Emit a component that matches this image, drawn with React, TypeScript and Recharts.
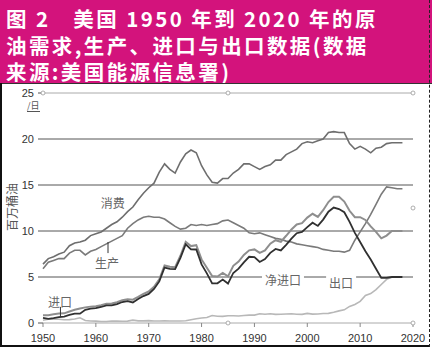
import { Line, LineChart, ReferenceDot, ReferenceLine, XAxis, YAxis } from 'recharts';

const years = [
  1950, 1951, 1952, 1953, 1954, 1955, 1956, 1957, 1958, 1959,
  1960, 1961, 1962, 1963, 1964, 1965, 1966, 1967, 1968, 1969,
  1970, 1971, 1972, 1973, 1974, 1975, 1976, 1977, 1978, 1979,
  1980, 1981, 1982, 1983, 1984, 1985, 1986, 1987, 1988, 1989,
  1990, 1991, 1992, 1993, 1994, 1995, 1996, 1997, 1998, 1999,
  2000, 2001, 2002, 2003, 2004, 2005, 2006, 2007, 2008, 2009,
  2010, 2011, 2012, 2013, 2014, 2015, 2016, 2017, 2018,
];

// 消费（需求）
const demand = [
  6.4, 7.0, 7.2, 7.5, 7.7, 8.4, 8.7, 8.8, 9.0, 9.5,
  9.7, 9.9, 10.3, 10.7, 11.0, 11.5, 12.1, 12.6, 13.4, 14.1,
  14.7, 15.2, 16.4, 17.3, 16.7, 16.3, 17.5, 18.4, 18.8, 18.5,
  17.1, 16.1, 15.3, 15.2, 15.7, 15.7, 16.3, 16.7, 17.3, 17.3,
  17.0, 16.7, 17.0, 17.2, 17.7, 17.7, 18.3, 18.6, 18.9, 19.5,
  19.7, 19.6, 19.8, 20.0, 20.7, 20.8, 20.7, 20.7, 19.5, 18.9,
  19.2, 18.9, 18.5, 19.0, 19.1, 19.5, 19.6, 19.6, 19.6,
];

// 生产
const production = [
  5.9, 6.6, 6.8, 7.0, 7.0, 7.6, 7.9, 7.9, 7.4, 7.8,
  8.0, 8.3, 8.6, 8.9, 9.2, 9.5, 10.3, 10.8, 11.2, 11.5,
  11.6, 11.5, 11.5, 11.3, 10.9, 10.5, 10.2, 10.3, 10.7, 10.6,
  10.7, 10.6, 10.7, 10.8, 11.1, 11.2, 10.9, 10.6, 10.3, 9.8,
  9.7, 9.8, 9.6, 9.4, 9.2, 9.1, 8.9, 8.8, 8.6, 8.5,
  8.4, 8.3, 8.2, 8.0, 7.9, 7.8, 7.8, 7.7, 7.9, 9.0,
  9.9, 10.8, 11.8, 12.9, 14.0, 14.8, 14.7, 14.6, 14.6,
];

// 进口
const imports = [
  0.85, 0.85, 0.95, 1.03, 1.05, 1.25, 1.44, 1.57, 1.7, 1.78,
  1.81, 1.92, 2.08, 2.12, 2.26, 2.47, 2.57, 2.54, 2.84, 3.17,
  3.42, 3.93, 4.74, 6.26, 6.11, 6.06, 7.31, 8.81, 8.36, 8.46,
  6.91, 6.0, 5.11, 5.05, 5.44, 5.07, 6.22, 6.68, 7.4, 7.9,
  8.0, 7.63, 7.89, 8.62, 9.0, 8.83, 9.48, 10.16, 10.71, 10.85,
  11.46, 11.87, 11.53, 12.26, 13.15, 13.71, 13.71, 13.2, 12.2, 11.5,
  11.5, 11.2, 10.5, 9.9, 9.2, 9.5, 10.0, 10.0, 10.0,
];

// 净进口
const netImports = [
  0.55, 0.45, 0.52, 0.63, 0.7, 0.88, 1.01, 1.01, 1.43, 1.57,
  1.61, 1.74, 1.91, 1.91, 2.06, 2.28, 2.37, 2.23, 2.61, 2.93,
  3.16, 3.7, 4.52, 6.03, 5.89, 5.85, 7.09, 8.56, 8.0, 7.99,
  6.37, 5.4, 4.3, 4.31, 4.72, 4.29, 5.44, 5.91, 6.59, 7.2,
  7.16, 6.63, 6.94, 7.62, 8.05, 7.89, 8.5, 9.16, 9.76, 9.91,
  10.42, 10.9, 10.55, 11.24, 12.1, 12.55, 12.39, 12.04, 11.0, 9.8,
  8.8, 7.8, 6.9, 5.9, 4.9, 4.9, 5.0, 5.0, 5.0,
];

// 出口
const exportsData = [
  0.3, 0.42, 0.43, 0.4, 0.36, 0.37, 0.43, 0.57, 0.28, 0.21,
  0.2, 0.17, 0.17, 0.21, 0.2, 0.19, 0.2, 0.31, 0.23, 0.23,
  0.26, 0.22, 0.22, 0.23, 0.22, 0.21, 0.22, 0.24, 0.36, 0.47,
  0.54, 0.6, 0.81, 0.74, 0.72, 0.78, 0.78, 0.76, 0.82, 0.86,
  0.86, 1.0, 0.95, 1.0, 0.94, 0.95, 0.98, 1.0, 0.95, 0.94,
  1.04, 0.97, 0.98, 1.03, 1.05, 1.17, 1.32, 1.43, 1.8, 2.02,
  2.35, 2.99, 3.2, 3.62, 4.18, 4.74, 5.0, 5.0, 5.0,
];

const xTicks = [1950, 1960, 1970, 1980, 1990, 2000, 2010, 2020];
const yTicks = [0, 5, 10, 15, 20, 25];
const gridValues = [5, 10, 15, 20];

const titleText = '图 2　美国 1950 年到 2020 年的原\n油需求,生产、进口与出口数据(数据\n来源:美国能源信息署)';

const data = years.map((year, i) => ({
  year,
  demand: demand[i],
  production: production[i],
  imports: imports[i],
  netImports: netImports[i],
  exports: exportsData[i],
}));

const txtFont = '"Noto Sans CJK SC", sans-serif';

// annotation drawn at a data point, optional white box behind it
const makeNote = (text: string, boxed: boolean) => (props: any) => {
  const { cx, cy } = props;
  const w = text.length * 12 + 6;
  return (
    <g>
      {boxed && <rect x={cx - w / 2} y={cy - 8} width={w} height={16} fill="#fff" />}
      <text x={cx} y={cy} textAnchor="middle" dominantBaseline="central" fontSize={12} fill="#666" fontFamily={txtFont}>
        {text}
      </text>
    </g>
  );
};

const handle = (props: any) => (
  <circle cx={props.cx} cy={props.cy} r={2} fill="#fff" stroke="#999" strokeWidth={0.8} />
);

export default function App() {
  return (
    <div style={{ position: 'absolute', left: 0, top: 0, width: 432, height: 351, background: '#fff', overflow: 'hidden' }}>
      <div style={{ position: 'absolute', left: 0, top: 0, width: 432, height: 83, background: '#d3137c' }}>
        <div
          style={{
            position: 'absolute',
            left: 6,
            top: 5,
            fontFamily: txtFont,
            fontWeight: 700,
            fontSize: 20.5,
            letterSpacing: 2.4,
            lineHeight: '26.5px',
            color: '#fff',
            whiteSpace: 'pre',
          }}
        >
          {titleText}
        </div>
      </div>
      <div style={{ position: 'absolute', left: 0, top: 83, width: 432, height: 1, background: '#333' }} />
      <div style={{ position: 'absolute', left: 0, top: 83, width: 2, height: 264, background: '#111' }} />
      <div style={{ position: 'absolute', left: 0, top: 345, width: 430, height: 2, background: '#111' }} />
      <div style={{ position: 'absolute', left: 429, top: 0, width: 0, height: 347, borderLeft: '1px dashed #222' }} />

      <div style={{ position: 'absolute', left: 0, top: 84 }}>
        <LineChart width={432} height={262} data={data} margin={{ top: 9, right: 19, left: 0, bottom: 0 }}>
          <XAxis
            dataKey="year"
            type="number"
            domain={[1950, 2020]}
            ticks={xTicks}
            axisLine={{ stroke: '#aaa' }}
            tickLine={{ stroke: '#888' }}
            tickSize={4}
            tickMargin={7}
            height={23}
            tick={{ fontSize: 11, fill: '#333', fontFamily: '"Liberation Sans", sans-serif' }}
          />
          <YAxis
            type="number"
            domain={[0, 25]}
            ticks={yTicks}
            axisLine={false}
            tickLine={{ stroke: '#555' }}
            tickSize={5}
            tickMargin={4}
            width={43}
            tick={{ fontSize: 11, fill: '#333', fontFamily: '"Liberation Sans", sans-serif' }}
          />

          {gridValues.map((v) => (
            <ReferenceLine key={v} y={v} stroke="#555" strokeWidth={1} />
          ))}
          <ReferenceLine y={25} stroke="#aaa" strokeWidth={1} />

          <Line dataKey="exports" stroke="#b8b8b8" strokeWidth={1.6} dot={false} isAnimationActive={false} />
          <Line dataKey="production" stroke="#7a7a7a" strokeWidth={1.6} dot={false} isAnimationActive={false} />
          <Line dataKey="demand" stroke="#6e6e6e" strokeWidth={1.6} dot={false} isAnimationActive={false} />
          <Line dataKey="imports" stroke="#8e8e8e" strokeWidth={2} dot={false} isAnimationActive={false} />
          <Line dataKey="netImports" stroke="#303030" strokeWidth={1.8} dot={false} isAnimationActive={false} />

          <ReferenceLine segment={[{ x: 1962.3, y: 8.8 }, { x: 1962.3, y: 7.6 }]} stroke="#333" strokeWidth={1} />
          <ReferenceLine segment={[{ x: 1953.3, y: 1.75 }, { x: 1953.3, y: 0.65 }]} stroke="#333" strokeWidth={1} />

          <ReferenceDot x={1963.2} y={13.15} r={0} ifOverflow="visible" shape={makeNote('消费', false)} />
          <ReferenceDot x={1962.1} y={6.6} r={0} ifOverflow="visible" shape={makeNote('生产', false)} />
          <ReferenceDot x={1953.2} y={2.3} r={0} ifOverflow="visible" shape={makeNote('进口', false)} />
          <ReferenceDot x={1995.4} y={4.75} r={0} ifOverflow="visible" shape={makeNote('净进口', true)} />
          <ReferenceDot x={2006.4} y={4.45} r={0} ifOverflow="visible" shape={makeNote('出口', true)} />

          <ReferenceDot x={1950} y={25} r={2} ifOverflow="visible" shape={handle} />
          <ReferenceDot x={1985} y={25} r={2} ifOverflow="visible" shape={handle} />
          <ReferenceDot x={2020} y={25} r={2} ifOverflow="visible" shape={handle} />
          <ReferenceDot x={2020} y={12.5} r={2} ifOverflow="visible" shape={handle} />
          <ReferenceDot x={1985} y={0} r={2} ifOverflow="visible" shape={handle} />
          <ReferenceDot x={2020} y={0} r={2} ifOverflow="visible" shape={handle} />
        </LineChart>
      </div>
      <div
        style={{
          position: 'absolute',
          left: 12,
          top: 207,
          transform: 'translate(-50%, -50%) rotate(-90deg)',
          fontSize: 12,
          lineHeight: '14px',
          color: '#555',
          fontFamily: txtFont,
          whiteSpace: 'nowrap',
        }}
      >
        百万桶油
      </div>
      <div style={{ position: 'absolute', left: 27, top: 101, fontSize: 9, color: '#555', fontFamily: txtFont, borderBottom: '1px solid #555', lineHeight: '10px' }}>
        /日
      </div>
    </div>
  );
}
